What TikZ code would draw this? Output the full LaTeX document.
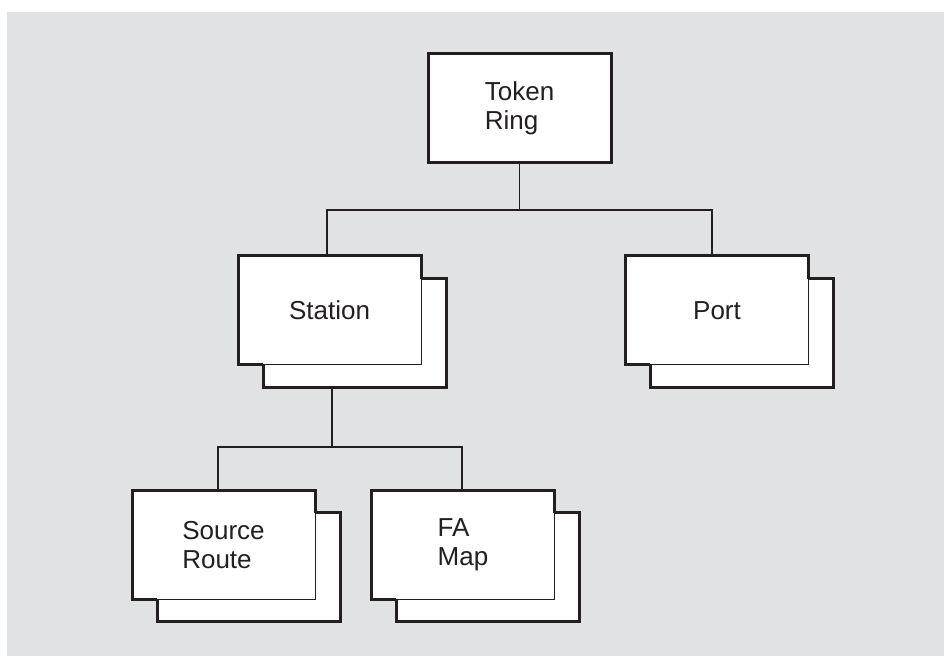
\documentclass[tikz,border=0pt]{standalone}
\usepackage{fontspec}
\setmainfont{Liberation Sans}
\definecolor{panel}{RGB}{225,226,228}
\definecolor{ink}{RGB}{35,31,32}

\begin{document}
\begin{tikzpicture}[x=0.5pt, y=-0.5pt, ink,
  card/.style={draw=ink, line width=0.5pt, fill=white, outer sep=0pt, minimum width=91.5pt, minimum height=54.5pt, align=left, font=\fontsize{13}{14.5}\selectfont},
  under/.style={draw=ink, line width=1.5pt, fill=white, outer sep=0pt, minimum width=91.5pt, minimum height=54.5pt},
  rim/.style={line width=1.5pt, line join=miter},
  wire/.style={line width=0.6pt}]

% background
\useasboundingbox (0,0) rectangle (944,656);
\fill[panel] (7,12) rectangle (944,656);

% token ring
\node[card, line width=1.5pt] (ring) at (519.5,108.5) {Token\\Ring};

% station
\node[under] (station back) at (354.5,333.5) {};
\node[card] (station) at (329.5,310.5) {Station};
\draw[rim] (station.east |- station back.north) -- (station.north east) -- (station.north west) -- (station.south west) -- (station back.west |- station.south);

% port
\node[under] (port back) at (741.5,333.5) {};
\node[card] (port) at (717,310.5) {Port};
\draw[rim] (port.east |- port back.north) -- (port.north east) -- (port.north west) -- (port.south west) -- (port back.west |- port.south);

% source route
\node[under] (source back) at (248.5,567.5) {};
\node[card] (source) at (223.5,545) {Source\\Route};
\draw[rim] (source.east |- source back.north) -- (source.north east) -- (source.north west) -- (source.south west) -- (source back.west |- source.south);

% fa map
\node[under] (fa back) at (487.5,567.5) {};
\node[card] (fa) at (463,545) {FA\\Map};
\draw[rim] (fa.east |- fa back.north) -- (fa.north east) -- (fa.north west) -- (fa.south west) -- (fa back.west |- fa.south);

% connectors
\coordinate (bus top) at (519.5,210);
\coordinate (bus mid) at (332,447);
\draw[wire] (ring.south) -- (bus top);
\draw[wire] ([xshift=-1.25pt]station.north) |- (bus top) -| ([xshift=-2.5pt]port.north);
\draw[wire] (station back.south -| bus mid) -- (bus mid);
\draw[wire] ([xshift=-2.75pt]source.north) |- (bus mid) -| ([xshift=-0.5pt]fa.north);

\end{tikzpicture}
\end{document}
